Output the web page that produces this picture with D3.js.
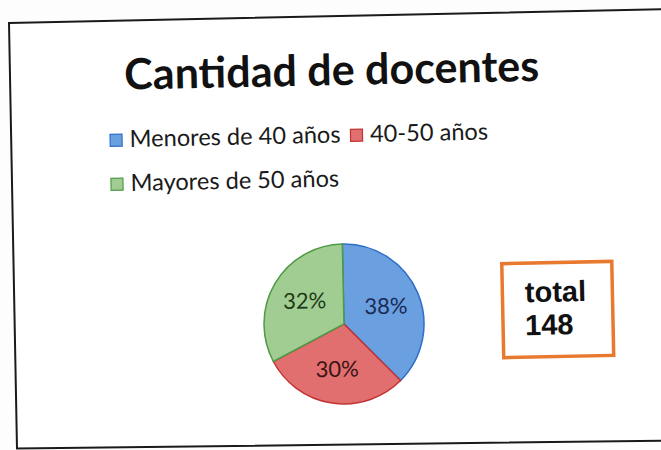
<!DOCTYPE html>
<html>
<head>
<meta charset="utf-8">
<script src="https://cdn.jsdelivr.net/npm/d3@7"></script>
<style>
  body { margin: 0; background: #fdfdfd; }
  svg { display: block; }
</style>
</head>
<body>
<div id="chart"></div>
<script>
// datos:
const categories = ["Menores de 40 años", "40-50 años", "Mayores de 50 años"]
const counts = [56, 44, 48]
const colors = ["#6a9fe0", "#e26f6f", "#a2cd92"]
const strokeColors = ["#2f6fc8", "#c23333", "#4f9a45"]
const labelColors = ["#1b2a55", "#3a1414", "#1d3a18"]
const title = "Cantidad de docentes"
const totalLabel = "total"

// Constantes:
const width = 661
const height = 450
const center = [344, 324]   // centro del pie, también pivote del giro del escaneo
const tilt = -1.2           // la hoja está un poco torcida

let svg = d3.select('div#chart').append('svg').attr('width', width).attr('height', height)

// marco (el escaneo lo deforma un poco, va en coordenadas de pantalla)
svg.append('polygon')
    .attr('points', '9,23 700,8.5 700,440.3 17,448.5')
    .attr('fill', '#ffffff')
    .attr('stroke', '#1a1a1a')
    .attr('stroke-width', 2)

let page = svg.append('g').attr('transform', `rotate(${tilt}, ${center[0]}, ${center[1]})`)

// título
page.append('text')
    .attr('x', 337).attr('y', 85)
    .attr('text-anchor', 'middle')
    .attr('font-family', 'Lato, sans-serif')
    .attr('font-weight', 'bold')
    .attr('font-size', 43)
    .attr('fill', '#111')
    .text(title)

// leyenda
const legendFont = 23.6
let legend = page.append('g').attr('id', 'legend')
let items = legend.selectAll('g').data(categories).enter().append('g')
items.append('rect')
    .attr('x', 0).attr('y', -13).attr('width', 12).attr('height', 12)
    .attr('fill', (d, i) => colors[i])
    .attr('stroke', (d, i) => strokeColors[i])
    .attr('stroke-width', 1.2)
items.append('text')
    .attr('x', 19.5).attr('y', 0)
    .attr('font-family', 'Lato, sans-serif')
    .attr('font-size', legendFont)
    .attr('fill', '#1a1a1a')
    .text(d => d)
// primera fila: dos elementos seguidos, segunda fila: el tercero
let firstW = items.filter((d, i) => i === 0).select('text').node().getComputedTextLength()
items.attr('transform', (d, i) => {
    if (i === 0) return 'translate(114, 142.5)'
    if (i === 1) return `translate(${114 + 19.5 + firstW + 10}, 142.5)`
    return 'translate(114, 186.5)'
})

// pie
const total = d3.sum(counts)
const radius = 80
let pie = d3.pie().sort(null).value(d => d)
let arc = d3.arc().innerRadius(0).outerRadius(radius)
let labelArc = d3.arc().innerRadius(radius * 0.57).outerRadius(radius * 0.57)
let pieGroup = page.append('g').attr('transform', `translate(${center[0]}, ${center[1]})`)
let slices = pieGroup.selectAll('g').data(pie(counts)).enter().append('g')
slices.append('path')
    .attr('d', arc)
    .attr('fill', (d, i) => colors[i])
    .attr('stroke', (d, i) => strokeColors[i])
    .attr('stroke-width', 1.5)
slices.append('text')
    .attr('transform', d => `translate(${labelArc.centroid(d)})`)
    .attr('text-anchor', 'middle')
    .attr('dy', '0.35em')
    .attr('font-family', 'Lato, sans-serif')
    .attr('font-size', 22)
    .attr('fill', (d, i) => labelColors[i])
    .text(d => Math.round(d.value / total * 100) + '%')

// caja total
let box = page.append('g')
box.append('rect')
    .attr('x', 503).attr('y', 267).attr('width', 110).attr('height', 94)
    .attr('fill', '#fff')
    .attr('stroke', '#e9792f')
    .attr('stroke-width', 3.5)
box.append('text')
    .attr('x', 525.5).attr('y', 306)
    .attr('font-family', 'Liberation Sans, Arial, sans-serif')
    .attr('font-weight', 'bold')
    .attr('font-size', 29)
    .attr('fill', '#111')
    .text(totalLabel)
box.append('text')
    .attr('x', 525).attr('y', 339)
    .attr('font-family', 'Liberation Sans, Arial, sans-serif')
    .attr('font-weight', 'bold')
    .attr('font-size', 29)
    .attr('fill', '#111')
    .text(total)
</script>
</body>
</html>
